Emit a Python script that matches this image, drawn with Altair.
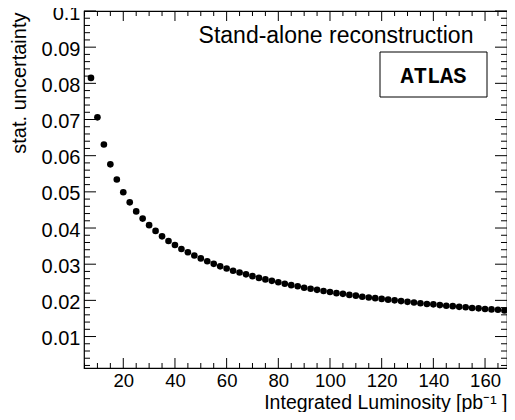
import altair as alt
import pandas as pd

# Integrated luminosity [pb^-1] and statistical uncertainty
lumi = [7.5, 10, 12.5, 15, 17.5, 20, 22.5, 25, 27.5, 30, 32.5, 35, 37.5, 40,
        42.5, 45, 47.5, 50, 52.5, 55, 57.5, 60, 62.5, 65, 67.5, 70, 72.5, 75,
        77.5, 80, 82.5, 85, 87.5, 90, 92.5, 95, 97.5, 100, 102.5, 105, 107.5,
        110, 112.5, 115, 117.5, 120, 122.5, 125, 127.5, 130, 132.5, 135, 137.5,
        140, 142.5, 145, 147.5, 150, 152.5, 155, 157.5, 160, 162.5, 165, 167.5]
stat_unc = [0.0815, 0.0706, 0.0631, 0.0576, 0.0534, 0.0499, 0.0471, 0.0446,
            0.0426, 0.0408, 0.0392, 0.0377, 0.0364, 0.0353, 0.0342, 0.0333,
            0.0324, 0.0316, 0.0308, 0.0301, 0.0294, 0.0288, 0.0282, 0.0277,
            0.0272, 0.0267, 0.0262, 0.0258, 0.0254, 0.0250, 0.0246, 0.0242,
            0.0239, 0.0235, 0.0232, 0.0229, 0.0226, 0.0223, 0.0220, 0.0218,
            0.0215, 0.0213, 0.0210, 0.0208, 0.0206, 0.0204, 0.0202, 0.0200,
            0.0198, 0.0196, 0.0194, 0.0192, 0.0190, 0.0189, 0.0187, 0.0185,
            0.0184, 0.0182, 0.0181, 0.0179, 0.0178, 0.0176, 0.0175, 0.0174,
            0.0172]

x_major = [20, 40, 60, 80, 100, 120, 140, 160]
x_minor = [5, 10, 15, 25, 30, 35, 45, 50, 55, 65, 70, 75, 85, 90, 95, 105,
           110, 115, 125, 130, 135, 145, 150, 155, 165]
y_major = [0.01, 0.02, 0.03, 0.04, 0.05, 0.06, 0.07, 0.08, 0.09, 0.1]
y_minor = [0.002, 0.004, 0.006, 0.008, 0.012, 0.014, 0.016, 0.018, 0.022,
           0.024, 0.026, 0.028, 0.032, 0.034, 0.036, 0.038, 0.042, 0.044,
           0.046, 0.048, 0.052, 0.054, 0.056, 0.058, 0.062, 0.064, 0.066,
           0.068, 0.072, 0.074, 0.076, 0.078, 0.082, 0.084, 0.086, 0.088,
           0.092, 0.094, 0.096, 0.098]

x_title = "Integrated Luminosity [pb\u207b\u00b9 ]"
y_title = "stat. uncertainty"
note = "Stand-alone reconstruction"
label = "ATLAS"

df = pd.DataFrame({"lumi": lumi, "unc": stat_unc})
ann = pd.DataFrame({"note": [note], "label": [label]})
xmaj = pd.DataFrame({"lumi": x_major})
xmin_ = pd.DataFrame({"lumi": x_minor})
ymaj = pd.DataFrame({"unc": y_major})
ymin_ = pd.DataFrame({"unc": y_minor})

FONT = "Liberation Sans"
W, H = 423, 357

xscale = alt.Scale(domain=[4.8, 168.5], nice=False, zero=False)
yscale = alt.Scale(domain=[0.0013, 0.1], nice=False, zero=False)

x_axis = alt.Axis(orient="bottom", values=x_major, format="d",
                  domain=False, grid=False, ticks=False,
                  labelPadding=3, labelFont=FONT,
                  labelFontSize=18.5, labelColor="black",
                  title=x_title, titleFont=FONT, titleFontSize=19.5,
                  titleFontWeight="normal", titleColor="black",
                  titleAlign="right", titleAnchor="end",
                  titleBaseline="alphabetic", titleX=W, titleY=40)
y_axis = alt.Axis(orient="left", values=y_major, format=".2~f",
                  domain=False, grid=False, ticks=False,
                  labelPadding=4, labelFont=FONT,
                  labelFontSize=20, labelColor="black", labelOffset=2,
                  labelFlush=False,
                  title=y_title, titleFont=FONT, titleFontSize=20,
                  titleFontWeight="normal", titleColor="black",
                  titleAngle=270, titleAlign="right",
                  titleBaseline="alphabetic", titleX=-59, titleY=1)

main = alt.Chart(df).mark_circle(size=44, color="black", opacity=1).encode(
    x=alt.X("lumi:Q", scale=xscale, axis=x_axis),
    y=alt.Y("unc:Q", scale=yscale, axis=y_axis),
)


def xticks(data, y0, y1):
    return alt.Chart(data).mark_rule(color="black", strokeWidth=1).encode(
        x=alt.X("lumi:Q", scale=xscale, axis=x_axis),
        y=alt.value(y0), y2=alt.value(y1))


def yticks(data, x0, x1):
    return alt.Chart(data).mark_rule(color="black", strokeWidth=1).encode(
        y=alt.Y("unc:Q", scale=yscale, axis=y_axis),
        x=alt.value(x0), x2=alt.value(x1))


ticks = [
    xticks(xmaj, H - 10, H), xticks(xmin_, H - 5, H),
    xticks(xmaj, 0, 10), xticks(xmin_, 0, 5),
    yticks(ymaj, 0, 12), yticks(ymin_, 0, 6),
    yticks(ymaj, W - 12, W), yticks(ymin_, W - 6, W),
]

ann_base = alt.Chart(ann)
note_text = ann_base.mark_text(font=FONT, fontSize=23, color="black",
                               align="center", baseline="alphabetic").encode(
    text="note:N", x=alt.value(252), y=alt.value(32))
box = ann_base.mark_rect(fill="white", stroke="black", strokeWidth=1).encode(
    x=alt.value(296), x2=alt.value(403), y=alt.value(41), y2=alt.value(86))
atlas = ann_base.mark_text(font="Liberation Mono", fontSize=22,
                           fontWeight="bold", color="black", align="center",
                           baseline="middle").encode(
    text="label:N", x=alt.value(349.5), y=alt.value(65))

chart = alt.layer(main, *ticks, note_text, box, atlas).properties(
    width=W, height=H,
    autosize=alt.AutoSizeParams(type="none"),
    padding={"left": 76, "top": 3, "right": 0, "bottom": 44},
).configure_view(stroke="black", strokeWidth=1.2)

chart.save("out.html", embed_options={"renderer": "svg", "actions": False})
